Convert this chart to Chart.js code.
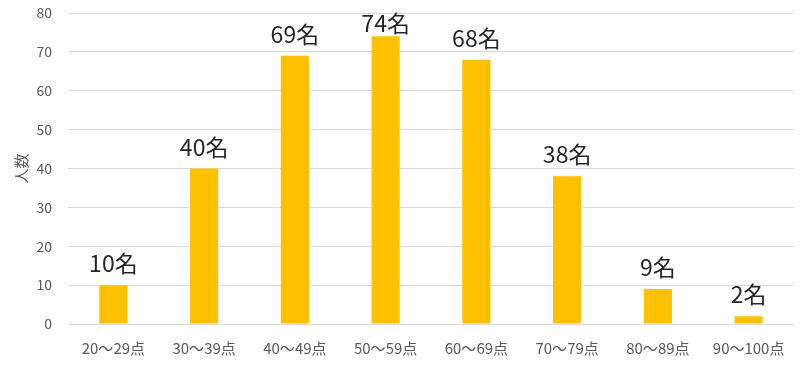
<!DOCTYPE html>
<html>
<head>
<meta charset="utf-8">
<script src="https://cdn.jsdelivr.net/npm/chart.js@4"></script>
<style>
  html, body { margin: 0; padding: 0; background: #fff; }
  #wrap { width: 800px; height: 366px; }
</style>
</head>
<body>
<div id="wrap"><canvas id="chartScores"></canvas></div>
<script>
const categories = [
  "20～29点", "30～39点", "40～49点", "50～59点",
  "60～69点", "70～79点", "80～89点", "90～100点",
];
const counts = [10, 40, 69, 74, 68, 38, 9, 2];
const yTicks = [0, 10, 20, 30, 40, 50, 60, 70, 80];

const fontFamily = "'Noto Sans CJK JP', 'Noto Sans', sans-serif";
const barColor = "#ffc000";
const textGray = "#595959";

// draws the "NN名" label over each bar
const barLabels = {
  id: "barLabels",
  afterDatasetsDraw(chart) {
    const { ctx } = chart;
    const meta = chart.getDatasetMeta(0);
    ctx.save();
    ctx.font = "23px " + fontFamily;
    ctx.fillStyle = "#262626";
    ctx.textAlign = "center";
    ctx.textBaseline = "alphabetic";
    meta.data.forEach((bar, i) => {
      const y = Math.max(bar.y - 13, 32);
      ctx.fillText(counts[i] + "名", bar.x, y);
    });
    ctx.restore();
  },
};

new Chart(document.getElementById("chartScores"), {
  type: "bar",
  data: {
    labels: categories,
    datasets: [
      {
        label: "人数",
        data: counts,
        backgroundColor: barColor,
        borderWidth: 0,
        categoryPercentage: 1,
        barPercentage: 0.31,
      },
    ],
  },
  options: {
    responsive: true,
    maintainAspectRatio: false,
    animation: false,
    layout: { padding: { left: 12, right: 6, top: 13, bottom: 0 } },
    plugins: {
      legend: { display: false },
      tooltip: { enabled: false },
    },
    scales: {
      x: {
        grid: { display: false, drawTicks: false },
        border: { display: false },
        ticks: {
          autoSkip: false,
          maxRotation: 0,
          padding: 15,
          color: textGray,
          font: { family: fontFamily, size: 15 },
        },
        afterFit: (scale) => { scale.height = 42; },
      },
      y: {
        min: 0,
        max: 80,
        afterBuildTicks: (scale) => {
          scale.ticks = yTicks.map((v) => ({ value: v }));
        },
        grid: { color: "#d9d9d9", drawTicks: false, lineWidth: 1 },
        border: { display: false },
        ticks: {
          padding: 16,
          color: textGray,
          font: { family: fontFamily, size: 14 },
        },
        title: {
          display: true,
          text: "人数",
          color: textGray,
          padding: 0,
          font: { family: fontFamily, size: 15 },
        },
        afterFit: (scale) => {
          scale.width = 56;
          scale.paddingTop = 0;
          scale.paddingBottom = 0;
        },
      },
    },
  },
  plugins: [barLabels],
});
</script>
</body>
</html>
